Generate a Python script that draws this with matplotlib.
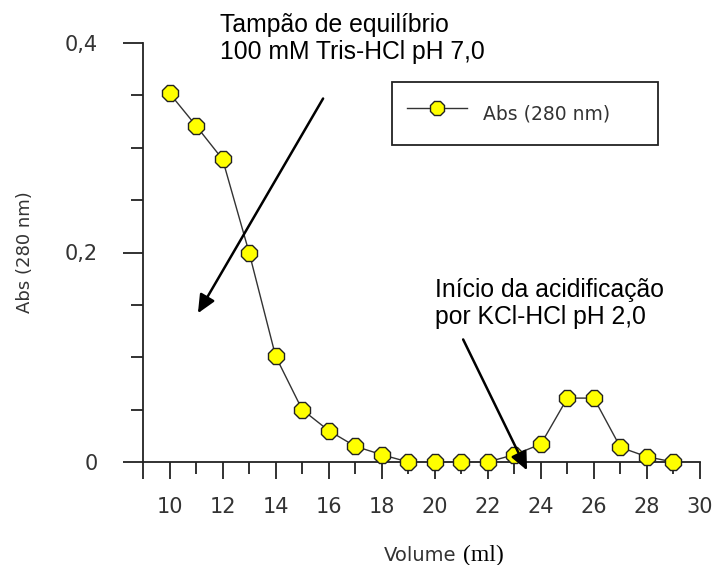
import numpy as np
import matplotlib.pyplot as plt

# dados
volume = [10, 11, 12, 13, 14, 15, 16, 17, 18, 19, 20, 21, 22, 23, 24, 25, 26, 27, 28, 29]
absorbancia = [0.352, 0.321, 0.289, 0.200, 0.101, 0.050, 0.030, 0.015, 0.007, 0.0,
               0.0, 0.0, 0.0, 0.007, 0.017, 0.061, 0.061, 0.014, 0.005, 0.0]

xticks_major = [9, 10, 12, 14, 16, 18, 20, 22, 24, 26, 28, 30]
xtick_labels = ['', '10', '12', '14', '16', '18', '20', '22', '24', '26', '28', '30']
yticks_major = [0, 0.2, 0.4]
ytick_labels = ['0', '0,2', '0,4']

texto1 = "Tampão de equilíbrio\n100 mM Tris-HCl pH 7,0"
texto2 = "Início da acidificação\npor KCl-HCl pH 2,0"

cinza = '#333333'

fig = plt.figure(figsize=(7.17, 5.65), dpi=100)
ax = fig.add_axes([143/717, 1 - 462/565, 557/717, 419/565])

ax.plot(volume, absorbancia, color=cinza, lw=1, marker='8', markersize=13,
        markerfacecolor='#FFFF00', markeredgecolor='#222222', markeredgewidth=1,
        label='Abs (280 nm)', clip_on=False, zorder=3)

ax.set_xlim(9, 30)
ax.set_ylim(0, 0.4)

for s in ['top', 'right']:
    ax.spines[s].set_visible(False)
for s in ['left', 'bottom']:
    ax.spines[s].set_color('#222222')
    ax.spines[s].set_linewidth(1.3)

ax.set_xticks(xticks_major)
ax.set_xticklabels(xtick_labels)
ax.set_xticks(np.arange(11, 30, 2), minor=True)
ax.set_yticks(yticks_major)
ax.set_yticklabels(ytick_labels)
ax.set_yticks([0.05, 0.1, 0.15, 0.25, 0.3, 0.35], minor=True)

ax.tick_params(axis='x', which='major', length=12.2, width=1.3, color='#222222',
               pad=13, labelsize=15, labelcolor=cinza)
ax.tick_params(axis='x', which='minor', length=8.6, width=1.3, color='#222222')
ax.tick_params(axis='y', which='major', length=14.4, width=1.3, color='#222222',
               pad=18, labelsize=15, labelcolor=cinza)
ax.tick_params(axis='y', which='minor', length=8.6, width=1.3, color='#222222')

ax.set_ylabel('Abs (280 nm)', fontsize=13, color=cinza)
ax.yaxis.set_label_coords(-0.195, 0.5)

fig.text(384/717, 4/565, 'Volume', fontsize=14, color=cinza, va='baseline', ha='left')
fig.text(463/717, 4/565, '(ml)', fontsize=17, color='black', va='baseline', ha='left',
         family='Liberation Serif')

leg = ax.legend(loc='upper left', bbox_to_anchor=(0.447, 0.757, 0.478, 0.15),
                mode='expand', borderaxespad=0, fontsize=13.5, borderpad=0.8,
                handleheight=2.3, handlelength=3.2, handletextpad=0.85,
                markerscale=0.85, fancybox=False, framealpha=1,
                edgecolor='#222222')
leg.get_frame().set_linewidth(1.3)
for t in leg.get_texts():
    t.set_color(cinza)

seta = dict(arrowstyle='-|>,head_length=0.55,head_width=0.25', lw=1.8,
            color='black', mutation_scale=20, shrinkA=0, shrinkB=0)
ax.annotate('', xy=(11.07, 0.142), xytext=(15.79, 0.347), arrowprops=seta,
            annotation_clip=False)
ax.annotate('', xy=(23.48, -0.008), xytext=(21.07, 0.117), arrowprops=seta,
            annotation_clip=False, zorder=5)

ax.text(11.9, 0.4286, texto1, fontsize=17.8, family='Liberation Sans',
        va='top', ha='left', linespacing=1.17)
ax.text(20.01, 0.1757, texto2, fontsize=17.8, family='Liberation Sans',
        va='top', ha='left', linespacing=1.17)

fig.savefig('out.png', dpi=100)
